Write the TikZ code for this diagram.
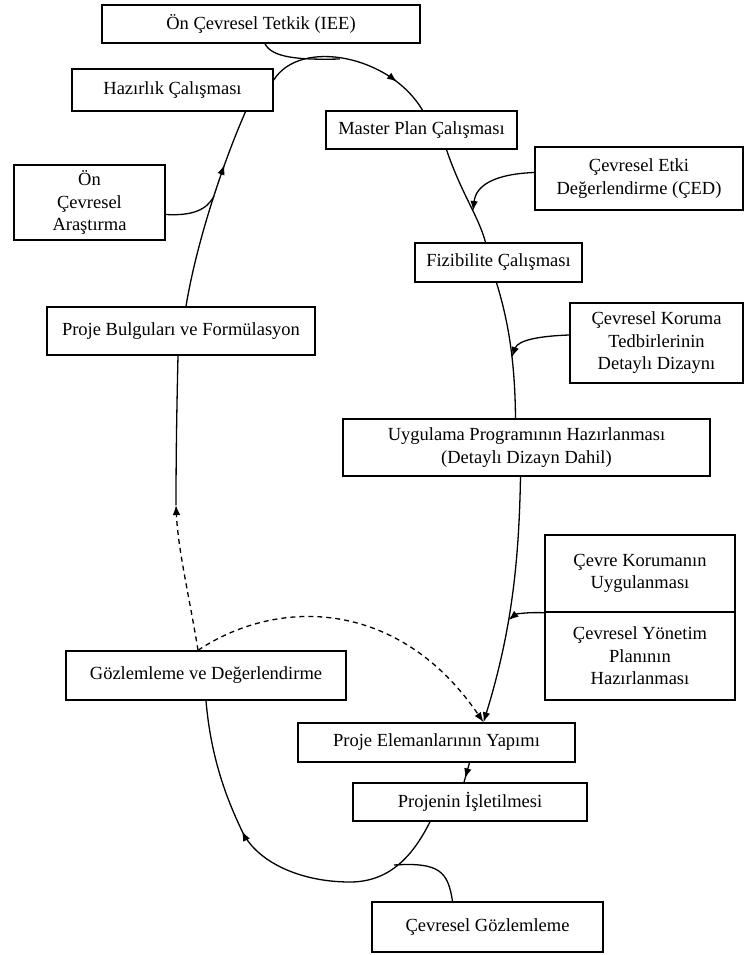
\documentclass[tikz,border=0pt]{standalone}
\usepackage{fontspec}
\setmainfont{Liberation Serif}
\usetikzlibrary{arrows.meta,decorations.markings,calc}
\begin{document}
\begin{tikzpicture}[x=1pt,y=-1pt,
  box/.style={draw,line width=1.5pt,inner sep=0pt,align=center,
    font=\fontsize{18.5}{22.5}\selectfont},
  flow/.style={line width=1.3pt},
  tip/.style={-{Latex[length=10pt,width=7.5pt]}},
  midtip/.style={postaction={decorate,decoration={markings,
    mark=at position #1 with {\arrow{Latex[length=10pt,width=7.5pt]}}}}},
  dashline/.style={dash pattern=on 5pt off 4pt}]
\useasboundingbox (0,0) rectangle (744,955);

% boxes
\node[box,minimum width=318pt,minimum height=38pt] (iee) at (261,24) {Ön Çevresel Tetkik (IEE)};
\node[box,minimum width=201pt,minimum height=42pt] (haz) at (172.5,90) {Hazırlık Çalışması};
\node[box,minimum width=191pt,minimum height=38pt] (master) at (421.5,130) {Master Plan Çalışması};
\node[box,minimum width=208pt,minimum height=63pt] (ced) at (639,178.5) {Çevresel Etki\\Değerlendirme (ÇED)};
\node[box,minimum width=151pt,minimum height=75pt] (onc) at (89.5,202.5) {Ön\\Çevresel\\Araştırma};
\node[box,minimum width=167pt,minimum height=39pt] (fiz) at (498.5,262.5) {Fizibilite Çalışması};
\node[box,minimum width=173pt,minimum height=80pt] (kor) at (656.5,343) {Çevresel Koruma\\Tedbirlerinin\\Detaylı Dizaynı};
\node[box,minimum width=268pt,minimum height=48pt] (bul) at (181,331) {Proje Bulguları ve Formülasyon};
\node[box,minimum width=367pt,minimum height=57pt] (uyg) at (526.5,447.5) {Uygulama Programının Hazırlanması\\(Detaylı Dizayn Dahil)};
\node[box,minimum width=190pt,minimum height=77pt] (cevk) at (640,573.5) {Çevre Korumanın\\Uygulanması};
\node[box,minimum width=190pt,minimum height=88pt] (cevy) at (640,656) {Çevresel Yönetim\\Planının\\Hazırlanması};
\node[box,minimum width=280pt,minimum height=49pt] (goz) at (206,675.5) {Gözlemleme ve Değerlendirme};
\node[box,minimum width=277pt,minimum height=39pt] (pey) at (436.5,742.5) {Proje Elemanlarının Yapımı};
\node[box,minimum width=234pt,minimum height=38pt] (isl) at (470,802) {Projenin İşletilmesi};
\node[box,minimum width=231pt,minimum height=50pt] (cgoz) at (487.5,927) {Çevresel Gözlemleme};

% junction points on the cycle
\coordinate (jtop) at (340,59);
\coordinate (jced) at (473,211);
\coordinate (jkor) at (512,357);
\coordinate (jcev) at (508.5,620);
\coordinate (jbot) at (394,865);
\coordinate (jleft) at (176,505);
\coordinate (jonc) at (214,196);

% main cycle
\draw[flow,midtip=0.78] ($(haz.east)+(0,-10)$) .. controls (300,38) and (390,55) .. ($(master.north)+(1,0)$);
\draw[flow] ($(master.south)+(25,0)$) .. controls (462,195) and (478,215) .. ($(fiz.north)+(-13,0)$);
\draw[flow] ($(fiz.south)+(-2,0)$) .. controls (508,320) and (515,360) .. ($(uyg.north)+(-11,0)$);
\draw[flow,tip] ($(uyg.south)+(-6,0)$) .. controls (519,560) and (512,630) .. ($(pey.north)+(47,0)$);
\draw[flow,midtip=0.8] ($(pey.south)+(33,0)$) -- ($(isl.north)+(-6,0)$);
\draw[flow,midtip=0.63] ($(isl.south)+(-40,0)$) .. controls (412,858) and (388,882) .. (350,882)
  .. controls (300,882) and (258,862) .. (243,833)
  .. controls (228,802) and (211,760) .. (goz.south);
\draw[flow,dashline,tip] ($(goz.north)+(-8,0)$) .. controls (190,600) and (178,550) .. (jleft);
\draw[flow] (jleft) .. controls (176,450) and (177,400) .. ($(bul.south)+(-3,0)$);
\draw[flow,midtip=0.72] ($(bul.north)+(5,0)$) .. controls (196,245) and (222,165) .. ($(haz.south)+(73,0)$);

% feedback from monitoring
\draw[flow,dashline,tip] ($(goz.north)+(-8,0)$) .. controls (280,596) and (400,600) .. ($(pey.north)+(47,0)$);

% side inputs
\draw[flow] ($(iee.south)+(4,0)$) .. controls (272,58) and (300,60) .. (jtop);
\draw[flow,tip] ($(ced.west)+(0,-6)$) .. controls (495,174) and (476,185) .. (jced);
\draw[flow,tip] ($(kor.west)+(0,-8)$) .. controls (540,336) and (518,340) .. (jkor);
\draw[flow,tip] (cevk.south west) .. controls (528,612) and (516,614) .. (jcev);
\draw[flow] ($(onc.east)+(0,12)$) .. controls (192,216) and (207,210) .. (jonc);
\draw[flow] ($(cgoz.north)+(-35,0)$) .. controls (448,872) and (440,862) .. (jbot);
\end{tikzpicture}
\end{document}
